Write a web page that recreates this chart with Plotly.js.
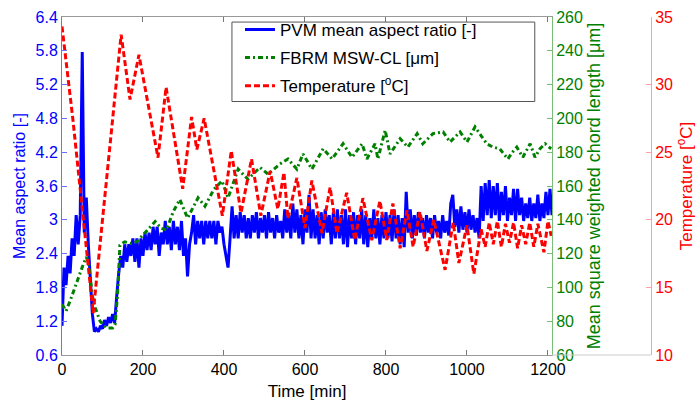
<!DOCTYPE html>
<html>
<head>
<meta charset="utf-8">
<script src="https://cdn.plot.ly/plotly-3.0.1.min.js"></script>
<style>html,body{margin:0;padding:0;background:#fff;}#chart{width:699px;height:412px;}</style>
</head>
<body>
<div id="chart"></div>
<script>
// PVM mean aspect ratio, sampled every 5 min starting at 0 min
const pvmStart = 0;
const pvmStep = 5;
const pvmAspect = [
1.1,2.1,1.8,2.3,2.0,2.6,2.3,3.0,2.5,3.0,
5.8,2.7,3.3,2.5,1.9,1.3,1.0,1.05,1.0,1.1,
1.05,1.2,1.1,1.25,1.15,1.3,1.15,1.6,2.0,2.3,
2.1,2.5,2.2,2.5,2.3,2.6,2.2,2.6,2.1,2.6,
2.3,2.7,2.4,2.7,2.4,2.8,2.5,2.8,2.3,2.7,
2.5,2.9,2.5,2.8,2.4,2.9,2.5,2.8,2.4,2.9,
2.3,2.6,1.95,2.5,2.7,3.0,2.5,2.9,2.6,2.9,
2.5,2.9,2.6,2.9,2.6,2.9,2.5,2.9,2.7,2.8,
2.5,2.3,2.1,2.6,3.15,2.6,3.0,2.6,3.05,2.7,
3.0,2.6,2.95,2.6,3.0,2.7,3.05,2.6,2.95,2.7,
3.0,2.6,3.05,2.7,2.95,2.6,3.0,2.7,2.9,2.6,
3.1,2.7,3.0,2.6,3.2,2.7,3.1,2.6,3.0,2.5,
3.1,2.7,3.35,2.6,3.1,2.6,3.0,2.5,3.05,2.6,
3.1,2.7,3.0,2.5,3.05,2.6,3.1,2.6,3.0,2.5,
3.1,2.45,3.0,2.6,3.05,2.5,3.0,2.6,3.1,2.5,
3.0,2.45,2.95,2.6,3.1,2.6,2.95,2.5,3.0,2.6,
3.05,2.6,3.0,2.55,3.1,2.6,3.0,2.5,2.95,2.45,
3.4,2.7,3.1,2.6,3.0,2.65,3.05,2.7,2.95,2.6,
3.0,2.7,2.95,2.6,3.0,2.7,2.9,2.6,3.0,2.7,
2.9,2.65,3.2,3.35,2.8,3.1,2.7,3.15,2.75,3.05,
2.7,3.1,2.75,3.0,2.7,2.95,2.6,3.5,2.9,3.55,
3.0,3.6,2.95,3.5,3.0,3.55,2.9,3.4,3.0,3.5,
2.9,3.3,3.0,3.45,2.9,3.45,3.0,3.3,2.9,3.2,
2.95,3.3,2.9,3.2,2.95,3.35,2.9,3.2,2.95,3.4,
3.0,3.45,3.0
];

// FBRM MSW chord length [um]
const fbrmTime = [0,10,20,35,50,60,66,75,82,94,110,125,131,137,143,155,170,185,200,215,230,245,258,275,291,310,336,353,375,395,410,435,459,489,509,538,558,580,595,617,645,667,694,716,741,753,773,780,798,810,835,854,877,891,916,941,958,983,1000,1020,1037,1049,1064,1081,1101,1112,1123,1138,1156,1168,1180,1193,1208];
const fbrmMSW = [90,86,92,102,112,118,114,95,88,80,76,76,78,95,125,127,126,127,131,135,139,135,134,145,152,141,153,148,158,163,153,170,164,171,167,173,176,170,179,170,182,176,185,177,185,176,185,176,193,179,188,183,191,185,191,192,186,192,186,195,189,185,183,182,176,180,183,177,185,177,182,185,182];

// Temperature [°C]
const tempTime = [0,27,77,101,146,168,190,237,257,298,320,333,351,396,418,442,468,491,514,533,548,558,580,600,617,642,662,679,703,723,743,765,785,802,817,835,852,867,884,901,918,946,966,980,1000,1017,1035,1045,1055,1065,1075,1085,1095,1105,1115,1125,1135,1145,1155,1165,1175,1190,1200,1208];
const tempC = [34.3,27.4,13.1,20.3,33.7,28.9,32.2,24.6,29.8,22.3,27.6,25.2,27.5,20.3,25.1,20.5,24.5,20.3,23.6,20.8,23.5,20.1,23.1,19.4,22.9,19.0,22.4,19.0,22.0,18.5,21.6,18.5,21.4,18.5,21.2,17.9,20.7,18.0,20.6,17.7,20.0,16.3,19.8,16.8,19.6,16.0,19.3,18.0,19.8,18.2,19.9,18.0,19.7,18.3,19.8,17.9,19.6,18.2,19.8,18.0,19.7,17.6,19.9,18.8];

// Axis ticks
const timeTicks = [0,200,400,600,800,1000,1200];
const aspectTickVals = [0.6,1.18,1.76,2.34,2.92,3.5,4.08,4.66,5.24,5.82,6.4];
const aspectTickText = ['0.6','1.2','1.8','2.4','3','3.6','4.2','4.8','5.2','5.8','6.4'];
const mswTicks = [60,80,100,120,140,160,180,200,220,240,260];
const tempTicks = [10,15,20,25,30,35];

const FONT = 'Liberation Sans, Arial, Helvetica, sans-serif';
const BLUE = 'rgb(0,0,255)', GREEN = 'rgb(0,128,0)', RED = 'rgb(255,0,0)';

const traces = [
  {x0: pvmStart, dx: pvmStep, y: pvmAspect, type: 'scatter', mode: 'lines', legendgroup: 'a',
   name: 'PVM mean aspect ratio [-]', line: {color: BLUE, width: 3, simplify: false}, yaxis: 'y', xaxis: 'x'},
  {x: fbrmTime, y: fbrmMSW, type: 'scatter', mode: 'lines', legendgroup: 'b',
   name: 'FBRM MSW-CL [\u03bcm]', line: {color: GREEN, width: 3, dash: '5px,3px,2px,3px', simplify: false}, yaxis: 'y2', xaxis: 'x'},
  {x: tempTime, y: tempC, type: 'scatter', mode: 'lines', legendgroup: 'c',
   name: 'Temperature [<sup>o</sup>C]', line: {color: RED, width: 3, dash: '6px,3px', simplify: false}, yaxis: 'y3', xaxis: 'x'}
];

const XEND = 0.7929;
const layout = {
  width: 699, height: 412,
  margin: {l: 62, r: 19, t: 15, b: 57},
  paper_bgcolor: '#fff', plot_bgcolor: '#fff',
  font: {family: FONT, size: 16, color: '#000'},
  showlegend: true,
  legend: {x: 0.288, y: 1.015, xanchor: 'left', yanchor: 'top',
    bgcolor: 'rgba(0,0,0,0)', borderwidth: 0, tracegroupgap: 3,
    font: {family: FONT, size: 17, color: '#000'}},
  xaxis: {domain: [0, XEND], range: [0, 1210], tickvals: timeTicks,
    ticks: 'inside', ticklen: 5, tickcolor: '#777', showline: true, linecolor: '#999', linewidth: 1,
    mirror: 'ticks', showgrid: false, zeroline: false,
    tickfont: {family: FONT, size: 16, color: '#000'},
    title: {text: 'Time [min]', font: {family: FONT, size: 17, color: '#000'}, standoff: 7}},
  yaxis: {range: [0.6, 6.4], tickvals: aspectTickVals, ticktext: aspectTickText,
    ticks: 'inside', ticklen: 5, tickcolor: 'rgb(110,110,255)', showline: true, linecolor: 'rgb(110,110,255)',
    showgrid: false, zeroline: false,
    tickfont: {family: FONT, size: 16, color: BLUE},
    title: {text: 'Mean aspect ratio [-]', font: {family: FONT, size: 16, color: BLUE}, standoff: 5}},
  yaxis2: {overlaying: 'y', side: 'right', anchor: 'x', range: [60, 260], tickvals: mswTicks,
    ticks: 'inside', ticklen: 5, tickcolor: 'rgb(120,190,120)', showline: true, linecolor: 'rgb(120,190,120)',
    showgrid: false, zeroline: false,
    tickfont: {family: FONT, size: 16, color: GREEN},
    title: {text: 'Mean square weighted chord length [\u03bcm]', font: {family: FONT, size: 18, color: GREEN}, standoff: 5}},
  yaxis3: {overlaying: 'y', side: 'right', anchor: 'free', position: 0.953, range: [10, 35], tickvals: tempTicks,
    ticks: 'inside', ticklen: 5, tickcolor: 'rgb(255,160,160)', showline: true, linecolor: 'rgb(255,160,160)',
    showgrid: false, zeroline: false,
    tickfont: {family: FONT, size: 16, color: RED},
    title: {text: 'Temperature [<sup>o</sup>C]', font: {family: FONT, size: 17, color: RED}, standoff: 8}},
  shapes: [
    {type: 'line', xref: 'paper', yref: 'paper', x0: XEND, x1: 0.953, y0: 0, y1: 0,
     line: {color: '#ccc', width: 1}},
    {type: 'rect', xref: 'paper', yref: 'paper', layer: 'above',
     x0: 0.275, x1: 0.765, y0: 0.75, y1: 0.985,
     fillcolor: '#fff', line: {color: '#555', width: 1}}
  ]
};

Plotly.newPlot('chart', traces, layout, {displayModeBar: false, staticPlot: true});
</script>
</body>
</html>
